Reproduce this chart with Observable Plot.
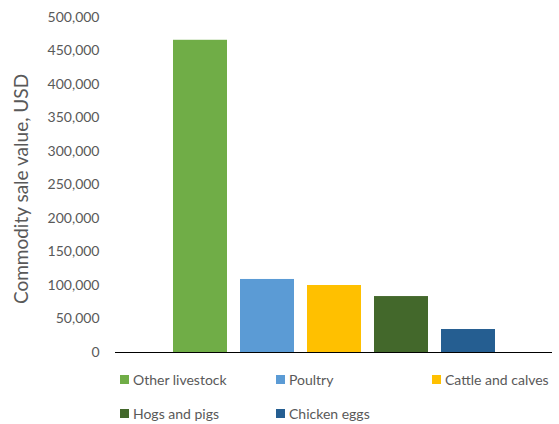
<!DOCTYPE html>
<html>
<head>
<meta charset="utf-8">
<script src="https://cdn.jsdelivr.net/npm/d3@7"></script>
<script src="https://cdn.jsdelivr.net/npm/@observablehq/plot@0.6"></script>
<style>
  body { margin: 0; background: #fff; font-family: Lato, "Open Sans", sans-serif; }
  #wrap { position: relative; width: 559px; height: 424px; }
  .legend { position: absolute; left: 120px; top: 369px; display: grid; grid-template-columns: 156px 156px 156px; row-gap: 14px; font-size: 14px; color: #595959; }
  .item { display: flex; align-items: center; height: 20px; white-space: nowrap; }
  .sw { width: 9px; height: 9px; margin-right: 4px; display: inline-block; }
</style>
</head>
<body>
<div id="wrap"></div>
<script>
const categories = ["Other livestock", "Poultry", "Cattle and calves", "Hogs and pigs", "Chicken eggs"];
const values = [466000, 109000, 100000, 83500, 34300];
const colors = ["#70AD47", "#5B9BD5", "#FFC000", "#43682B", "#255E91"];
const yTicks = [0, 50000, 100000, 150000, 200000, 250000, 300000, 350000, 400000, 450000, 500000];
const yLabel = "Commodity sale value, USD";

const data = categories.map((c, i) => ({category: c, value: values[i]}));

const chart = Plot.plot({
  width: 559,
  height: 360,
  marginTop: 17,
  marginBottom: 8,
  marginLeft: 115,
  marginRight: 7,
  style: {fontFamily: "Lato, 'Open Sans', sans-serif", color: "#595959", background: "#fff"},
  x: {domain: categories, paddingInner: 0.2, paddingOuter: 0.85, axis: null},
  y: {domain: [0, 500000], ticks: yTicks, tickFormat: d3.format(","), grid: false},
  color: {domain: categories, range: colors},
  marks: [
    Plot.barY(data, {x: "category", y: "value", fill: "category"}),
    Plot.ruleY([0], {stroke: "#000", strokeWidth: 1}),
    Plot.axisY({ticks: yTicks, tickFormat: d3.format(","), tickSize: 0, tickPadding: 16, fontSize: 14, label: null, fill: "#595959"}),
    Plot.text([yLabel], {frameAnchor: "left", text: d => d, rotate: -90, textAnchor: "middle", dx: -94, dy: 4, fontSize: 19, fill: "#595959"})
  ]
});
const wrap = document.getElementById("wrap");
wrap.appendChild(chart);

const legend = document.createElement("div");
legend.className = "legend";
categories.forEach((c, i) => {
  const it = document.createElement("div");
  it.className = "item";
  const sw = document.createElement("span");
  sw.className = "sw";
  sw.style.background = colors[i];
  it.appendChild(sw);
  it.appendChild(document.createTextNode(c));
  legend.appendChild(it);
});
wrap.appendChild(legend);
</script>
</body>
</html>
